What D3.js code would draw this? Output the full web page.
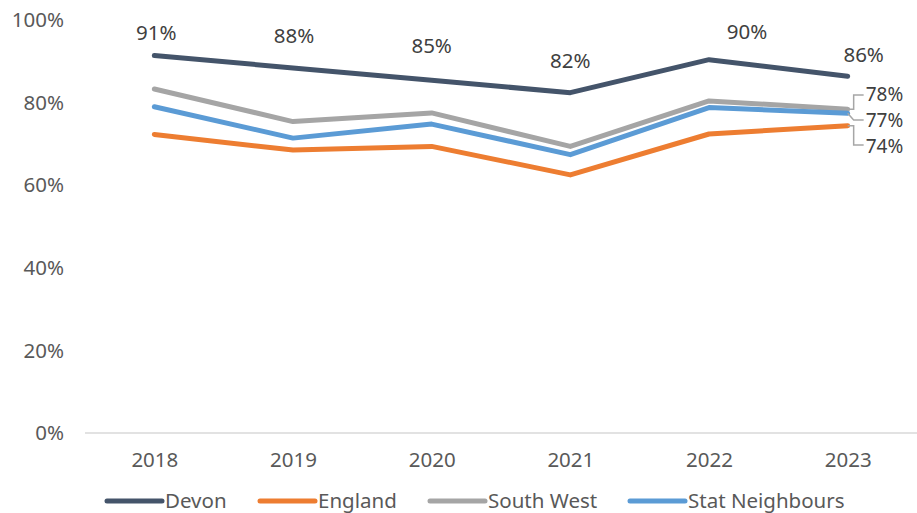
<!DOCTYPE html>
<html>
<head>
<meta charset="utf-8">
<script src="https://cdn.jsdelivr.net/npm/d3@7"></script>
<style>
  html, body { margin: 0; padding: 0; background: #fff; }
  svg { display: block; font-family: "Noto Sans", "Open Sans", sans-serif; }
</style>
</head>
<body>
<svg id="chart" width="917" height="513"></svg>
<script>
// data
const years = ['2018', '2019', '2020', '2021', '2022', '2023'];
const devon = [91.4, 88.4, 85.4, 82.4, 90.4, 86.4];
const england = [72.3, 68.5, 69.4, 62.5, 72.4, 74.4];
const southWest = [83.3, 75.4, 77.5, 69.4, 80.4, 78.4];
const statNeighbours = [79.0, 71.4, 74.8, 67.4, 78.8, 77.4];
const yTicks = [0, 20, 40, 60, 80, 100];

const series = [
  { name: 'Devon', values: devon, color: '#44546a' },
  { name: 'England', values: england, color: '#ed7d31' },
  { name: 'South West', values: southWest, color: '#a5a5a5' },
  { name: 'Stat Neighbours', values: statNeighbours, color: '#5b9bd5' }
];

// Devon labels sit above the points, nudged a little like the original
const devonLabelNudge = [[2, -23], [1, -32], [0, -34], [0, -32], [38, -28], [16, -21]];

const FS = 20.5;
const svg = d3.select('#chart');
const plotLeft = 85, plotRight = 917, plotTop = 20, plotBottom = 433;

const x = d3.scalePoint().domain(years).range([plotLeft, plotRight]).padding(0.5);
const y = d3.scaleLinear().domain([0, 100]).range([plotBottom, plotTop]);

// y tick labels (no gridlines)
svg.append('g').selectAll('text').data(yTicks).enter().append('text')
  .attr('x', 64).attr('y', d => y(d)).attr('dy', '0.35em')
  .attr('text-anchor', 'end').attr('fill', '#595959').attr('font-size', FS)
  .text(d => d + '%');

// x axis
const xAxis = svg.append('g').attr('transform', `translate(0,${plotBottom})`)
  .call(d3.axisBottom(x).tickSize(0).tickPadding(19));
xAxis.select('.domain').attr('stroke', '#d9d9d9').attr('stroke-width', 1.3)
  .attr('d', `M${plotLeft},0H${plotRight}`);
xAxis.selectAll('text').attr('fill', '#595959').attr('font-size', FS)
  .attr('font-family', '"Noto Sans", sans-serif');

// lines
const line = d3.line().x((d, i) => x(years[i])).y(d => y(d));
svg.append('g').selectAll('path').data(series).enter().append('path')
  .attr('d', d => line(d.values))
  .attr('fill', 'none').attr('stroke', d => d.color)
  .attr('stroke-width', 5).attr('stroke-linecap', 'round').attr('stroke-linejoin', 'round');

// Devon data labels
svg.append('g').selectAll('text').data(devon).enter().append('text')
  .attr('x', (d, i) => x(years[i]) + devonLabelNudge[i][0])
  .attr('y', (d, i) => y(d) + devonLabelNudge[i][1])
  .attr('dy', '0.35em').attr('text-anchor', 'middle')
  .attr('fill', '#404040').attr('font-size', FS)
  .text(d => Math.round(d) + '%');

// end labels with leader lines for the other three series
const last = years[years.length - 1];
const xe = x(last);
const ends = [
  { v: southWest[5], ly: 94, path: (px, py) => `M${px},${py}H${px + 6}V95H${px + 16}` },
  { v: statNeighbours[5], ly: 120, path: (px, py) => `M${px},${py}L${px + 6},120H${px + 16}` },
  { v: england[5], ly: 146, path: (px, py) => `M${px},${py}H${px + 6}V145H${px + 16}` }
];
const endG = svg.append('g');
ends.forEach(e => {
  endG.append('path').attr('d', e.path(xe, y(e.v)))
    .attr('fill', 'none').attr('stroke', '#a6a6a6').attr('stroke-width', 1.5);
  endG.append('text').attr('x', xe + 18).attr('y', e.ly).attr('dy', '0.35em')
    .attr('fill', '#404040').attr('font-size', 19)
    .text(Math.round(e.v) + '%');
});

// legend
const legendX = [107, 260, 430, 630];
const lg = svg.append('g').attr('transform', 'translate(0,501)');
series.forEach((s, i) => {
  lg.append('line').attr('x1', legendX[i]).attr('x2', legendX[i] + 55)
    .attr('stroke', s.color).attr('stroke-width', 5).attr('stroke-linecap', 'round');
  lg.append('text').attr('x', legendX[i] + 58).attr('dy', '0.35em')
    .attr('fill', '#595959').attr('font-size', FS).text(s.name);
});
</script>
</body>
</html>
